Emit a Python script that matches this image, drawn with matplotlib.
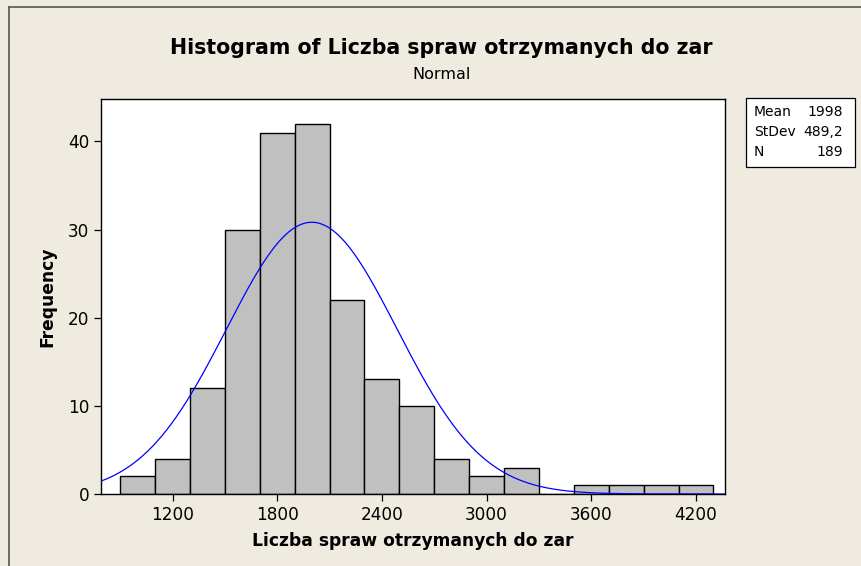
import matplotlib.pyplot as plt
import numpy as np

# histogram data (bin midpoints, counts)
midpoints = [1000, 1200, 1400, 1600, 1800, 2000, 2200, 2400, 2600,
             2800, 3000, 3200, 3400, 3600, 3800, 4000, 4200]
counts = [2, 4, 12, 30, 41, 42, 22, 13, 10, 4, 2, 3, 0, 1, 1, 1, 1]
bin_width = 200
mean, stdev, n = 1998, 489.2, 189

xticks = [1200, 1800, 2400, 3000, 3600, 4200]
yticks = [0, 10, 20, 30, 40]

bg = '#efebe1'
fig = plt.figure(figsize=(8.61, 5.66), dpi=100, facecolor=bg)
ax = fig.add_axes([0.1173, 0.1272, 0.7247, 0.6978])

ax.bar(midpoints, counts, width=bin_width, color='#c0c0c0',
       edgecolor='black', linewidth=1.0, zorder=2)

# fitted normal curve scaled to counts
xs = np.linspace(790, 4366, 400)
ys = n * bin_width * np.exp(-0.5 * ((xs - mean) / stdev) ** 2) / (stdev * np.sqrt(2 * np.pi))
ax.plot(xs, ys, color='#0000ff', linewidth=0.9, zorder=3)

ax.set_xlim(790, 4366)
ax.set_ylim(0, 44.8)
ax.set_xticks(xticks)
ax.set_yticks(yticks)
ax.tick_params(labelsize=12.2, length=5, width=0.9, color='black')
for side in ['left', 'bottom', 'top', 'right']:
    ax.spines[side].set_linewidth(1.0)

ax.set_xlabel('Liczba spraw otrzymanych do zar', fontsize=12.3,
              fontweight='bold', labelpad=6)
ax.set_ylabel('Frequency', fontsize=12.3, fontweight='bold', labelpad=8)

fig.text(0.513, 0.915, 'Histogram of Liczba spraw otrzymanych do zar',
         ha='center', va='center', fontsize=14.8, fontweight='bold')
fig.text(0.513, 0.869, 'Normal', ha='center', va='center', fontsize=11.5)

# stats box
bx0, by0, bw, bh = 746 / 861, 1 - 167 / 566, 109 / 861, 69 / 566
fig.patches.append(plt.Rectangle((bx0, by0), bw, bh, transform=fig.transFigure,
                                 facecolor='white', edgecolor='black', linewidth=0.9))
labels = ['Mean', 'StDev', 'N']
values = ['1998', '489,2', '189']
for i, (lab, val) in enumerate(zip(labels, values)):
    yy = 1 - (112 + i * 20) / 566
    fig.text(bx0 + 8 / 861, yy, lab, ha='left', va='center', fontsize=10)
    fig.text(bx0 + bw - 12 / 861, yy, val, ha='right', va='center', fontsize=10)

# outer frame (top and left edges visible)
fig.lines.append(plt.Line2D([9 / 861, 9 / 861], [0, 1 - 7 / 566],
                            transform=fig.transFigure, color='#555555', linewidth=1.2))
fig.lines.append(plt.Line2D([9 / 861, 1], [1 - 7 / 566, 1 - 7 / 566],
                            transform=fig.transFigure, color='#555555', linewidth=1.2))

fig.savefig('out.png', dpi=100, facecolor=bg)
